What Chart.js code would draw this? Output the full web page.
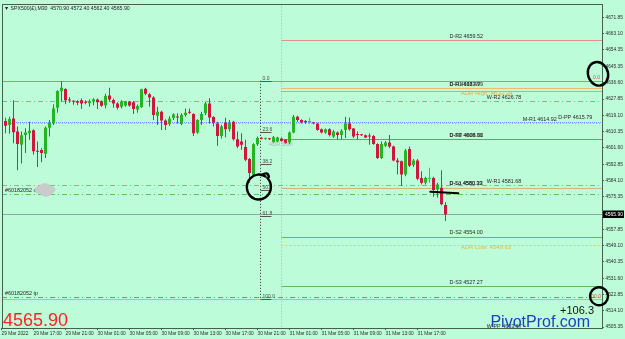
<!DOCTYPE html>
<html>
<head>
<meta charset="utf-8">
<script src="https://cdn.jsdelivr.net/npm/chart.js@4/dist/chart.umd.min.js"></script>
<style>
html,body{margin:0;padding:0;background:#bdfcd9;}
canvas{display:block;}
</style>
</head>
<body>
<canvas id="c" width="625" height="339"></canvas>
<script>
// ---------- DATA ----------
const symbolInfo = '\u25BC SPX500(\u00A3),M30  4570.90 4572.40 4562.40 4565.90';
const opens  = [4600.1,4616.1,4614.0,4617.5,4610.4,4603.3,4608.6,4609.5,4611.1,4599.9,4600.5,4598.5,4612.5,4614.8,4623.2,4632.1,4633.3,4627.4,4626.7,4626.7,4627.3,4626.2,4625.7,4626.6,4627.6,4626.7,4624.6,4629.8,4627.4,4625.5,4623.7,4624.4,4626.6,4626.2,4622.3,4623.5,4633.5,4630.5,4628.7,4618.9,4621.1,4616.3,4614.5,4617.7,4618.4,4614.5,4619.3,4620.9,4619.8,4609.9,4616.6,4620.2,4625.5,4618.2,4614.8,4608.1,4615.2,4611.6,4615.7,4606.3,4605.1,4602.1,4595.7,4587.3,4603.6,4606.7,4606.5,4606.4,4604.7,4605.1,4606.7,4606.0,4604.5,4609.9,4618.4,4616.6,4615.6,4615.5,4614.9,4614.8,4611.6,4609.9,4611.6,4607.7,4609.9,4608.6,4611.3,4614.8,4612.0,4608.7,4608.6,4608.5,4607.8,4608.1,4603.8,4596.2,4602.8,4604.5,4602.4,4594.9,4594.4,4587.3,4601.0,4592.5,4594.9,4585.5,4582.9,4585.0,4585.5,4579.3,4580.2,4570.9];
const highs  = [4618.9,4617.9,4618.4,4627.3,4613.1,4610.4,4612.2,4615.7,4611.6,4605.1,4601.5,4613.1,4616.6,4625.1,4632.6,4637.6,4633.7,4629.0,4627.3,4627.3,4628.2,4627.3,4627.6,4628.3,4628.2,4627.3,4630.8,4634.0,4628.2,4626.2,4627.3,4626.9,4626.9,4626.9,4625.0,4633.5,4634.0,4631.2,4629.4,4623.7,4621.6,4617.0,4618.7,4620.2,4620.2,4620.2,4622.8,4622.8,4620.2,4617.0,4621.1,4626.4,4628.3,4618.7,4615.7,4614.0,4617.9,4616.6,4616.1,4610.4,4609.5,4606.0,4596.2,4604.2,4607.7,4607.4,4607.0,4606.9,4608.0,4607.6,4607.2,4606.4,4610.4,4619.3,4618.9,4617.0,4616.6,4617.9,4615.4,4615.2,4612.0,4612.0,4612.2,4611.3,4610.4,4611.6,4618.4,4618.0,4612.4,4610.4,4609.0,4608.8,4609.5,4608.6,4604.2,4605.1,4605.4,4608.6,4602.8,4596.2,4594.9,4601.0,4602.4,4595.7,4595.7,4589.1,4586.1,4590.9,4586.1,4582.9,4589.6,4572.4];
const lows   = [4599.2,4609.5,4609.2,4604.2,4589.6,4593.2,4598.9,4606.0,4598.0,4591.4,4593.9,4596.2,4607.7,4613.9,4620.5,4626.4,4625.1,4625.9,4624.8,4624.6,4622.5,4625.1,4623.7,4624.6,4622.5,4623.7,4623.0,4626.4,4623.2,4622.3,4622.8,4623.7,4623.7,4619.8,4620.5,4623.2,4629.9,4623.7,4616.6,4614.0,4611.3,4611.3,4613.4,4616.6,4614.8,4613.9,4618.4,4619.8,4608.1,4609.2,4614.0,4619.3,4614.8,4613.1,4602.8,4606.7,4607.4,4610.4,4605.6,4601.5,4600.6,4594.4,4582.9,4586.4,4602.8,4606.1,4606.0,4605.9,4604.2,4604.7,4605.0,4603.7,4603.8,4609.5,4615.7,4614.8,4614.5,4614.8,4614.3,4610.9,4609.5,4609.2,4607.7,4606.9,4606.0,4606.3,4606.9,4610.9,4606.9,4606.3,4608.0,4606.9,4603.3,4603.3,4595.7,4595.7,4602.1,4601.5,4594.4,4587.3,4581.1,4586.4,4591.4,4591.4,4584.3,4582.0,4582.0,4582.9,4575.4,4574.9,4570.8,4562.4];
const closes = [4618.0,4613.6,4617.2,4610.0,4603.7,4608.4,4609.9,4610.9,4599.9,4599.6,4598.9,4612.5,4615.2,4622.8,4632.2,4634.0,4627.3,4627.1,4626.4,4625.9,4625.5,4625.9,4626.7,4627.8,4626.2,4624.3,4629.6,4627.6,4625.5,4623.2,4626.6,4626.6,4624.4,4622.5,4624.1,4633.1,4630.8,4628.7,4619.3,4621.1,4616.3,4614.0,4617.5,4619.6,4618.0,4619.3,4620.5,4620.6,4609.5,4616.6,4619.8,4625.5,4618.0,4615.2,4608.1,4613.1,4611.6,4615.2,4606.3,4602.4,4603.3,4595.3,4588.2,4603.6,4606.9,4606.6,4606.6,4606.3,4607.4,4607.2,4605.4,4604.2,4609.9,4618.4,4616.6,4615.4,4615.5,4615.5,4614.8,4611.3,4609.9,4611.6,4608.6,4610.4,4608.6,4610.9,4614.8,4611.6,4607.7,4608.6,4608.5,4607.2,4607.7,4603.8,4596.2,4603.8,4604.5,4602.4,4594.9,4593.9,4587.3,4600.3,4592.1,4594.9,4585.0,4582.9,4585.5,4585.0,4579.0,4581.9,4571.3,4565.9];

const xTickBars   = [0,8,16,24,32,40,48,56,64,72,80,88,96,104];
const xTickLabels = ['29 Mar 2022','29 Mar 17:00','29 Mar 21:00','30 Mar 01:00','30 Mar 05:00','30 Mar 09:00','30 Mar 13:00','30 Mar 17:00','30 Mar 21:00','31 Mar 01:00','31 Mar 05:00','31 Mar 09:00','31 Mar 13:00','31 Mar 17:00'];
const yTickValues = [4671.85,4663.10,4654.35,4645.35,4636.60,4627.85,4619.10,4610.35,4601.60,4592.85,4584.10,4575.35,4557.85,4549.10,4540.35,4531.60,4522.85,4514.10,4505.35];

const levelNames  = ['D-R2','FIB0','D-R1','ADR-H','W-R2','M-PP','M-R1','D-PP','W-R1','D-S1','SL','BID','D-S2','ADR-L','D-S3','TP','FIB100'];
const levelValues = [4659.52,4637.70,4633.79,4632.34,4626.78,4615.79,4614.92,4606.32,4581.68,4580.33,4577.00,4565.90,4554.00,4549.63,4527.27,4521.60,4520.30];
const levelLabels = ['D-R2 4659.52','','D-R1 4633.79','ADR High: 4632.34','W-R2 4626.78','D-PP 4615.79','M-R1 4614.92','D-PP 4606.32','W-R1 4581.68','D-S1 4580.33','#60182052 sl','','D-S2 4554.00','ADR Low: 4549.63','D-S3 4527.27','#60182052 tp',''];

const fibLevels = [0.0, 23.6, 38.2, 50.0, 61.8, 100.0];
const fibHigh = 4637.70, fibLow = 4520.30;
const fibBar = 64.6;       // time anchor of the fib object
const dayStartBar = 69.75; // 31 Mar 00:00 separator
const bidPrice = 4565.90;
const profitText = '+106.3';
const wPPLabel = 'W-PP 4603.67';
const adrStartText = 'ADR Start';
const adrStartPrice = 4603.5;

// ---------- STYLE ----------
const BG = '#bdfcd9';
const FONT = '"Liberation Sans", Arial, sans-serif';
const levelStyles = {
  'D-R2':  {color:'#e0928a', dash:[], from:'day', label:{at:112, kind:'above'}},
  'FIB0':  {color:'#e27e6e', dash:[], from:'start'},
  'D-R1':  {color:'#f2bb6a', dash:[], from:'day', label:{at:112, kind:'above'}},
  'ADR-H': {color:'#f04a3a', dash:[1,1], from:'day', label:{at:114.8, kind:'adr', color:'#f0a340'}},
  'W-R2':  {color:'#d88a86', dash:[5,3,1,3], from:'start', label:{at:121.3, kind:'above'}},
  'M-PP':  {color:'#7f8cff', dash:[1,1], from:'start', label:{at:139.2, kind:'above'}},
  'M-R1':  {color:'#9aa4f0', dash:[1,2], from:'start', label:{at:130.3, kind:'above'}},
  'D-PP':  {color:'#b87a6c', dash:[], from:'day', label:{at:112, kind:'above'}},
  'W-R1':  {color:'#dc8c88', dash:[5,3,1,3], from:'start', label:{at:121.3, kind:'above'}},
  'D-S1':  {color:'#cdb775', dash:[], from:'day', label:{at:112, kind:'above'}},
  'SL':    {color:'#5cc45c', dash:[5,3,1,3], from:'start', label:{at:'left', kind:'above'}},
  'BID':   {color:'#8eaa9e', dash:[], from:'start'},
  'D-S2':  {color:'#63b863', dash:[], from:'day', label:{at:112, kind:'above'}},
  'ADR-L': {color:'#f2cc3a', dash:[2,2], from:'day', label:{at:114.8, kind:'adr', color:'#f0b830'}},
  'D-S3':  {color:'#63b863', dash:[], from:'day', label:{at:112, kind:'above'}},
  'TP':    {color:'#e06a62', dash:[5,3,1,3], from:'start', label:{at:'left', kind:'above'}},
  'FIB100':{color:'#eaa595', dash:[], from:'start'}
};

const bullColor = '#24b424', bearColor = '#d0163c', dojiColor = '#19e019', wickColor = '#4f6358';

const bodyColors = opens.map((o,i)=> closes[i] > o ? bullColor : (closes[i] < o ? bearColor : dojiColor));
const wickColors = opens.map((o,i)=> closes[i] === o ? dojiColor : wickColor);

const overlay = {
  id: 'overlay',
  beforeDraw(chart) {
    const c = chart.ctx;
    c.save(); c.fillStyle = BG; c.fillRect(0,0,chart.width,chart.height); c.restore();
  },
  beforeDatasetsDraw(chart) {
    const c = chart.ctx, a = chart.chartArea, xs = chart.scales.x, ys = chart.scales.y;
    c.save();
    c.beginPath(); c.rect(a.left, a.top, a.right-a.left, a.bottom-a.top); c.clip();
    c.lineWidth = 1;
    const dx = Math.round(xs.getPixelForValue(dayStartBar)) + 0.5;
    c.strokeStyle = '#9fb5aa'; c.setLineDash([1,2]);
    c.beginPath(); c.moveTo(dx, a.top); c.lineTo(dx, a.bottom); c.stroke();
    levelNames.forEach((n,i)=>{
      const s = levelStyles[n];
      const y = Math.round(ys.getPixelForValue(levelValues[i])) + 0.5;
      const x0 = s.from === 'day' ? dx : a.left;
      c.strokeStyle = s.color; c.setLineDash(s.dash);
      c.beginPath(); c.moveTo(x0, y); c.lineTo(a.right, y); c.stroke();
    });
    const fx = Math.round(xs.getPixelForValue(fibBar)) + 0.5;
    const fy0 = ys.getPixelForValue(fibHigh), fy1 = ys.getPixelForValue(fibLow);
    c.strokeStyle = '#2c2c2c'; c.setLineDash([1,2]);
    c.beginPath(); c.moveTo(fx, fy0); c.lineTo(fx, fy1); c.stroke();
    c.setLineDash([]);
    c.font = '5px ' + FONT; c.fillStyle = '#4a4a4a'; c.textAlign = 'left'; c.textBaseline = 'bottom';
    fibLevels.forEach(f=>{
      const p = fibHigh - (fibHigh - fibLow) * f / 100;
      const y = Math.round(ys.getPixelForValue(p)) + 0.5;
      c.strokeStyle = '#555';
      c.beginPath(); c.moveTo(fx, y); c.lineTo(fx + 11, y); c.stroke();
      c.fillText(f.toFixed(1), fx + 2, y - 0.5);
    });
    c.restore();
  },
  afterDatasetsDraw(chart) {
    const c = chart.ctx, a = chart.chartArea, xs = chart.scales.x, ys = chart.scales.y;
    c.save();
    c.beginPath(); c.rect(a.left, a.top, a.right-a.left, a.bottom-a.top); c.clip();
    levelNames.forEach((n,i)=>{
      const s = levelStyles[n];
      if (!s.label || !levelLabels[i]) return;
      const y = ys.getPixelForValue(levelValues[i]);
      const x = s.label.at === 'left' ? a.left + 3 : xs.getPixelForValue(s.label.at);
      c.textAlign = 'left';
      if (s.label.kind === 'adr') {
        c.font = '6px ' + FONT; c.fillStyle = s.label.color; c.textBaseline = 'middle';
        c.fillText(levelLabels[i], x, y + 3);
      } else {
        c.font = '5.4px ' + FONT; c.fillStyle = '#262626'; c.textBaseline = 'bottom';
        c.fillText(levelLabels[i], x, y - 1);
      }
    });
    c.font = '5.4px ' + FONT; c.fillStyle = '#262626'; c.textBaseline = 'bottom';
    c.fillText('D-H 4638.49', xs.getPixelForValue(112), ys.getPixelForValue(levelValues[2]) - 1);
    c.fillText('D-S1 4608.66', xs.getPixelForValue(112), ys.getPixelForValue(levelValues[7]) - 1);
    c.fillText('D-Lo 4580.33', xs.getPixelForValue(112), ys.getPixelForValue(levelValues[9]) - 1);
    c.textBaseline = 'top';
    c.fillText(wPPLabel, xs.getPixelForValue(121.3), a.bottom - 4);
    c.font = '5.4px ' + FONT; c.fillStyle = '#a9b9c9'; c.textBaseline = 'middle';
    c.fillText(adrStartText, xs.getPixelForValue(66.8), ys.getPixelForValue(adrStartPrice));
    c.font = '5px ' + FONT; c.fillStyle = '#e04848'; c.textAlign = 'right'; c.textBaseline = 'bottom';
    c.fillText('0.0', a.right - 2, ys.getPixelForValue(fibHigh) - 0.5);
    c.fillText('100.0', a.right - 1, ys.getPixelForValue(fibLow) - 0.5);
    const sy = ys.getPixelForValue(levelValues[10]);
    c.fillStyle = '#cbcbcb';
    [[38,-4,4],[43,-6,4.5],[48,-4,4],[44,-2,5]].forEach(b=>{ c.beginPath(); c.ellipse(a.left+b[0], sy+b[1], b[2]+1.5, b[2], 0, 0, Math.PI*2); c.fill(); });
    c.font = '5.2px ' + FONT; c.fillStyle = '#222'; c.textAlign = 'left'; c.textBaseline = 'middle';
    c.fillText(symbolInfo, a.left + 2, a.top + 4);
    c.font = '18px ' + FONT; c.fillStyle = '#ff2222'; c.textBaseline = 'alphabetic';
    c.fillText(bidPrice.toFixed(2), a.left + 1, a.bottom - 2);
    c.font = '11px ' + FONT; c.fillStyle = '#111'; c.textAlign = 'right';
    c.fillText(profitText, a.right - 8, a.bottom - 14);
    c.font = '16px ' + FONT; c.fillStyle = '#1f3fc0';
    c.fillText('PivotProf.com', a.right - 12, a.bottom - 1);
    c.restore();
  },
  afterDraw(chart) {
    const c = chart.ctx, a = chart.chartArea, xs = chart.scales.x, ys = chart.scales.y;
    c.save();
    c.strokeStyle = '#46604f'; c.lineWidth = 1; c.setLineDash([]);
    c.strokeRect(Math.round(a.left)+0.5, Math.round(a.top)+0.5, Math.round(a.right-a.left), Math.round(a.bottom-a.top));
    const by = ys.getPixelForValue(bidPrice);
    c.fillStyle = '#000'; c.fillRect(a.right + 1, Math.round(by) - 3.5, 21, 7.5);
    c.fillStyle = '#fff'; c.font = '5px ' + FONT; c.textAlign = 'left'; c.textBaseline = 'middle';
    c.fillText(bidPrice.toFixed(2), a.right + 3, by + 0.3);
    c.strokeStyle = '#000'; c.lineWidth = 2.4; c.lineCap = 'round';
    const e1y = ys.getPixelForValue(fibHigh);
    c.beginPath(); c.ellipse(a.right - 4, e1y - 7, 10, 12, -0.3, 0.2, Math.PI*2 + 0.7); c.stroke();
    const e2x = xs.getPixelForValue(fibBar) - 1, e2y = ys.getPixelForValue(fibHigh - (fibHigh - fibLow)*0.5) - 3;
    c.beginPath(); c.ellipse(e2x, e2y, 12, 12.5, 0.2, -1.0, Math.PI*2 - 1.2); c.stroke();
    c.beginPath(); c.moveTo(e2x + 3, e2y - 12); c.quadraticCurveTo(e2x + 9, e2y - 16, e2x + 10, e2y - 10); c.stroke();
    const e3y = ys.getPixelForValue(fibLow);
    c.beginPath(); c.ellipse(a.right - 3, e3y - 3, 9, 9, 0, 0.4, Math.PI*2 + 0.9); c.stroke();
    const ly = ys.getPixelForValue(levelValues[10]) - 2;
    c.lineWidth = 2;
    c.beginPath(); c.moveTo(xs.getPixelForValue(107.2), ly); c.lineTo(xs.getPixelForValue(114.2), ly + 1.5); c.stroke();
    c.restore();
  }
};

const wickData = opens.map((o,i)=>({x:i, y:[lows[i], highs[i]]}));
const bodyData = opens.map((o,i)=>({x:i, y:[Math.min(o,closes[i]), Math.max(o,closes[i])]}));

new Chart(document.getElementById('c'), {
  type: 'bar',
  data: {
    datasets: [
      {data: wickData, backgroundColor: wickColors, maxBarThickness: 1, barPercentage: 1, categoryPercentage: 1, grouped: false, order: 2, minBarLength: 1, inflateAmount: 0},
      {data: bodyData, backgroundColor: bodyColors, maxBarThickness: 3, barPercentage: 1, categoryPercentage: 1, grouped: false, order: 1, minBarLength: 1, inflateAmount: 0}
    ]
  },
  options: {
    responsive: false, animation: false, events: [],
    layout: {padding: {top: 2, left: 2, right: 0, bottom: 0}},
    plugins: {legend: {display: false}, tooltip: {enabled: false}},
    scales: {
      x: {
        type: 'linear', min: 0.125, max: 150.125, offset: false, bounds: 'data', grace: 0,
        afterBuildTicks: s => { s.ticks = xTickBars.map(v => ({value: v})); },
        afterFit: s => { s.height = 11; },
        grid: {display: true, offset: false, drawOnChartArea: false, drawTicks: true, tickLength: 2, color: '#46604f'},
        border: {display: false},
        ticks: {autoSkip: false, maxRotation: 0, align: 'start', padding: 1, color: '#2a2a2a',
                font: {family: FONT, size: 4.8},
                callback: (v, i) => xTickLabels[i]}
      },
      y: {
        position: 'right', min: 4504.82, max: 4678.79,
        afterBuildTicks: s => { s.ticks = yTickValues.map(v => ({value: v})); },
        afterFit: s => { s.width = 23; },
        grid: {display: true, drawOnChartArea: false, drawTicks: true, tickLength: 2, color: '#46604f'},
        border: {display: false},
        ticks: {autoSkip: false, padding: 1.5, color: '#2a2a2a', font: {family: FONT, size: 4.8},
                callback: v => Number(v).toFixed(2)}
      }
    }
  },
  plugins: [overlay]
});
</script>
</body>
</html>
